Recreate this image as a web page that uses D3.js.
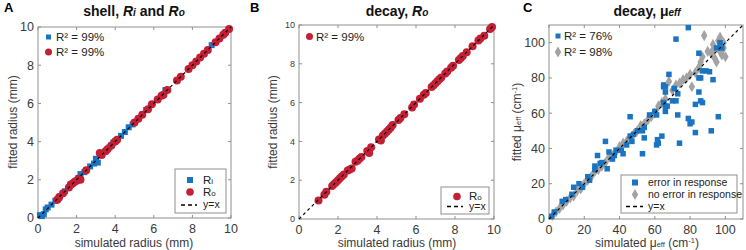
<!DOCTYPE html>
<html lang="en">
  <head>
    <meta charset="UTF-8" />
    <title>fitted vs simulated</title>
    <script src="https://cdn.jsdelivr.net/npm/d3@7"></script>
    <style>
      body { margin: 0; background: #fff; }
      text { font-family: 'Liberation Sans', Arial, sans-serif; }
    </style>
  </head>
  <body>
    <svg width="746" height="250"></svg>

    <script>
      // panel A: shell, inner (Ri) and outer (Ro) radius
      const shellRiSim = [0.1, 0.2, 0.3, 0.4, 0.5, 0.7, 0.9, 1.1, 1.4, 1.7, 2.1, 2.2, 2.4, 2.7, 2.9, 3.0, 3.1, 3.3, 3.7, 3.9, 4.3, 4.5, 4.7, 4.9, 5.6, 6.6, 9.0]
      const shellRiFit = [0.15, 0.1, 0.2, 0.45, 0.55, 0.7, 0.9, 1.05, 1.4, 1.75, 2.1, 2.3, 2.4, 2.7, 2.85, 3.1, 2.9, 3.3, 3.7, 3.95, 4.3, 4.5, 4.75, 4.9, 5.65, 6.7, 9.05]
      const shellRoSim = [1.0, 1.1, 1.3, 1.6, 1.7, 1.8, 1.9, 2.0, 2.1, 2.2, 2.5, 3.2, 3.3, 3.5, 3.6, 3.8, 4.0, 4.1, 5.0, 5.2, 5.4, 5.7, 5.9, 6.2, 6.4, 6.5, 6.7, 7.2, 7.4, 7.8, 8.0, 8.2, 8.4, 8.6, 8.8, 9.2, 9.4, 9.6, 9.7, 9.9]
      const shellRoFit = [0.95, 1.1, 1.3, 1.6, 1.75, 1.8, 1.9, 1.95, 2.05, 2.0, 2.5, 3.4, 3.3, 3.5, 3.6, 3.8, 4.0, 4.1, 5.0, 5.2, 5.4, 5.7, 5.95, 6.2, 6.4, 6.45, 6.7, 7.2, 7.4, 7.8, 8.0, 8.2, 8.4, 8.6, 8.8, 9.2, 9.4, 9.6, 9.7, 9.9]

      // panel B: decay, outer radius
      const decayRoSim = [1.0, 1.3, 1.4, 1.7, 1.8, 1.9, 2.0, 2.1, 2.2, 2.3, 2.5, 2.6, 2.7, 2.9, 3.0, 3.1, 3.2, 3.5, 3.6, 3.7, 4.1, 4.2, 4.3, 4.4, 4.5, 4.6, 4.7, 4.8, 5.1, 5.2, 5.4, 5.8, 5.9, 6.2, 6.4, 6.5, 6.8, 6.9, 7.0, 7.1, 7.2, 7.3, 7.5, 7.6, 7.8, 7.9, 8.2, 8.3, 8.4, 8.6, 8.9, 9.2, 9.3, 9.5, 9.8, 9.9]
      const decayRoFit = [0.95, 1.25, 1.4, 1.7, 1.8, 1.9, 2.0, 2.1, 2.2, 2.3, 2.5, 2.55, 2.6, 2.95, 3.0, 3.1, 3.2, 3.5, 3.4, 3.7, 4.1, 4.05, 4.3, 4.4, 4.5, 4.6, 4.7, 4.85, 5.1, 5.2, 5.4, 5.75, 5.9, 6.2, 6.4, 6.5, 6.8, 6.9, 7.0, 7.1, 7.2, 7.3, 7.5, 7.6, 7.8, 7.9, 8.2, 8.3, 8.4, 8.6, 8.9, 9.2, 9.3, 9.45, 9.8, 9.9]

      // panel C: decay, mu_eff (cm-1)
      const errSim = [1.5, 3, 7.5, 9.5, 13, 14, 17, 19, 22, 23, 26, 26, 29, 33, 27.5, 32, 34, 36, 37, 41, 42, 46, 47, 48, 50, 53, 54, 54, 61, 61.5, 62, 64, 74, 83, 92, 80, 81, 46, 53, 61, 65, 66, 66, 70, 72, 67, 73, 79, 96, 66, 65, 71, 73, 85, 86, 87, 83, 68, 65, 66, 86, 85, 89, 91, 93, 87, 85, 72, 79, 95, 97, 98, 44, 38, 30, 57, 60]
      const errFit = [1.5, 4, 10, 11, 14, 18, 20, 18, 24, 22, 30, 28, 31.5, 28.5, 36, 44, 38, 34, 36, 39, 37, 47, 44, 48, 50, 50, 46, 52, 42, 45, 43, 47, 43, 49, 50, 54, 55, 58, 37, 59, 66, 64, 61, 67, 67, 64, 59, 57, 58, 72, 76, 74, 71, 72, 67, 66, 65, 82, 75, 75, 80, 80, 84, 83.5, 79, 84, 94, 102, 108.5, 97, 100, 97, 42, 39, 32, 59, 61]
      const noErrSim = [2, 4, 6, 8, 10, 12, 14, 16, 18, 20, 22, 24, 26, 28, 30, 32, 34, 36, 38, 40, 42, 44, 46, 48, 50, 52, 54, 56, 58, 60, 62, 64, 66, 68, 70, 72, 74, 76, 78, 80, 81, 83, 85, 86, 87, 88, 90, 92, 93, 94, 95, 96, 97, 97, 98, 99, 100, 96, 93, 99]
      const noErrFit = [2, 4, 6, 8, 10, 12, 13, 16, 17, 20, 22, 24, 27, 28, 30, 32, 35, 36, 38, 41, 43, 44, 46, 48, 50, 53, 54, 56, 58, 60, 64, 66, 68, 78, 73, 76, 77, 79, 80, 82, 75, 83, 86, 89, 92, 104, 95, 94, 99, 91, 89, 101, 103, 95, 93, 97, 92, 97, 96, 100]

      const radiusTicks = [0, 2, 4, 6, 8, 10]
      const muTicks = [0, 20, 40, 60, 80, 100]

      const blue = '#1a74c0'
      const red = '#c41f34'
      const grey = '#a3a3a3'
      const boxColor = '#8f8f8f'
      const tickFont = '12.5px'

      const svg = d3.select('svg')

      // box, inward ticks on all four sides, tick labels
      function panel(p) {
        const x = d3.scaleLinear().domain(p.domain).range([p.left, p.right])
        const y = d3.scaleLinear().domain(p.domain).range([p.bottom, p.top])
        const g = svg.append('g')

        g.append('rect')
          .attr('x', p.left)
          .attr('y', p.top)
          .attr('width', p.right - p.left)
          .attr('height', p.bottom - p.top)
          .attr('fill', 'none')
          .attr('stroke', boxColor)
          .attr('stroke-width', 1)

        const tl = 3
        p.ticks.forEach((t) => {
          g.append('line').attr('x1', x(t)).attr('x2', x(t)).attr('y1', p.bottom).attr('y2', p.bottom - tl).attr('stroke', boxColor)
          g.append('line').attr('x1', x(t)).attr('x2', x(t)).attr('y1', p.top).attr('y2', p.top + tl).attr('stroke', boxColor)
          g.append('line').attr('y1', y(t)).attr('y2', y(t)).attr('x1', p.left).attr('x2', p.left + tl).attr('stroke', boxColor)
          g.append('line').attr('y1', y(t)).attr('y2', y(t)).attr('x1', p.right).attr('x2', p.right - tl).attr('stroke', boxColor)
          g.append('text')
            .attr('x', x(t))
            .attr('y', p.bottom + 15)
            .attr('text-anchor', 'middle')
            .style('font-size', tickFont)
            .attr('fill', '#3a3a3a')
            .text(t)
          g.append('text')
            .attr('x', p.left - 4)
            .attr('y', y(t))
            .attr('dy', '0.35em')
            .attr('text-anchor', 'end')
            .style('font-size', p.yTickSize)
            .attr('fill', '#3a3a3a')
            .text(t)
        })
        return { g, x, y, domain: p.domain }
      }

      // dashed y = x, drawn over the markers
      function identity(P) {
        const [a, b] = P.domain
        P.g.append('line')
          .attr('x1', P.x(a))
          .attr('y1', P.y(a))
          .attr('x2', P.x(b))
          .attr('y2', P.y(b))
          .attr('stroke', '#000')
          .attr('stroke-width', 1.2)
          .attr('stroke-dasharray', '3,3')
      }

      function squares(P, xs, ys, color, s) {
        P.g.append('g')
          .selectAll('rect')
          .data(xs.map((v, i) => [v, ys[i]]))
          .join('rect')
          .attr('x', (d) => P.x(d[0]) - s / 2)
          .attr('y', (d) => P.y(d[1]) - s / 2)
          .attr('width', s)
          .attr('height', s)
          .attr('fill', color)
      }

      function circles(P, xs, ys, color, r) {
        P.g.append('g')
          .selectAll('circle')
          .data(xs.map((v, i) => [v, ys[i]]))
          .join('circle')
          .attr('cx', (d) => P.x(d[0]))
          .attr('cy', (d) => P.y(d[1]))
          .attr('r', r)
          .attr('fill', color)
      }

      const diamond = d3.symbol().type(d3.symbolDiamond).size(36)
      function diamonds(P, xs, ys, color) {
        P.g.append('g')
          .selectAll('path')
          .data(xs.map((v, i) => [v, ys[i]]))
          .join('path')
          .attr('d', diamond)
          .attr('transform', (d) => `translate(${P.x(d[0])},${P.y(d[1])})`)
          .attr('fill', color)
      }

      function legendText(x, y, str, size) {
        return svg.append('text').attr('x', x).attr('y', y).attr('dy', '0.35em').style('font-size', size || '11.5px').attr('fill', '#222').text(str)
      }

      function dashKey(x1, x2, y) {
        svg.append('line').attr('x1', x1).attr('x2', x2).attr('y1', y).attr('y2', y).attr('stroke', '#000').attr('stroke-width', 1.3).attr('stroke-dasharray', '4,3')
      }

      function title(cx, parts) {
        const t = svg.append('text').attr('x', cx).attr('y', 16).attr('text-anchor', 'middle').style('font-size', '14px').style('font-weight', 'bold').attr('fill', '#111')
        parts.forEach((p) => {
          t.append('tspan').style('font-style', p.it ? 'italic' : 'normal').style('font-size', p.size || '14px').text(p.s)
        })
      }

      function letter(x, s) {
        svg.append('text').attr('x', x).attr('y', 12).style('font-size', '13px').style('font-weight', 'bold').text(s)
      }

      function yLabel(x, cy, parts) {
        const t = svg.append('text').attr('transform', `translate(${x},${cy}) rotate(-90)`).attr('text-anchor', 'middle').style('font-size', '12px').attr('fill', '#3a3a3a')
        parts.forEach((p) => {
          const s = t.append('tspan').style('font-size', p.size || '12px').text(p.s)
          if (p.dy) s.attr('dy', p.dy)
        })
      }

      function xLabel(cx, y, parts) {
        const t = svg.append('text').attr('x', cx).attr('y', y).attr('text-anchor', 'middle').style('font-size', '12px').attr('fill', '#3a3a3a')
        parts.forEach((p) => {
          const s = t.append('tspan').style('font-size', p.size || '12px').text(p.s)
          if (p.dy) s.attr('dy', p.dy)
        })
      }

      // ---- A ----
      const A = panel({ domain: [0, 10], ticks: radiusTicks, left: 38, right: 231, top: 27, bottom: 218, yTickSize: tickFont })
      squares(A, shellRiSim, shellRiFit, blue, 6)
      circles(A, shellRoSim, shellRoFit, red, 4)
      identity(A)
      letter(4, 'A')
      title(134, [{ s: 'shell, ' }, { s: 'R', it: true }, { s: 'i', it: true, size: '10px' }, { s: ' and ' }, { s: 'R', it: true }, { s: 'o', it: true, size: '10px' }])
      xLabel(134, 247, [{ s: 'simulated radius (mm)' }])
      yLabel(17, 122, [{ s: 'fitted radius (mm)' }])
      svg.append('rect').attr('x', 46).attr('y', 34.5).attr('width', 5).attr('height', 5).attr('fill', blue)
      legendText(56, 37, 'R² = 99%')
      svg.append('circle').attr('cx', 48.5).attr('cy', 52).attr('r', 3.5).attr('fill', red)
      legendText(56, 52, 'R² = 99%')
      svg.append('rect').attr('x', 175).attr('y', 169).attr('width', 51).attr('height', 44).attr('fill', '#fff').attr('stroke', boxColor)
      svg.append('rect').attr('x', 187).attr('y', 177).attr('width', 6).attr('height', 6).attr('fill', blue)
      const ri = legendText(203, 180, 'R', '11.5px')
      ri.append('tspan').style('font-size', '8px').text('i')
      svg.append('circle').attr('cx', 190).attr('cy', 192).attr('r', 3.8).attr('fill', red)
      const ro = legendText(203, 192, 'R', '11.5px')
      ro.append('tspan').style('font-size', '8px').text('o')
      dashKey(181, 197, 205)
      legendText(203, 204.5, 'y=x', '10.5px')

      // ---- B ----
      const B = panel({ domain: [0, 10], ticks: radiusTicks, left: 299, right: 494, top: 25, bottom: 219, yTickSize: '9px' })
      circles(B, decayRoSim, decayRoFit, red, 4)
      identity(B)
      letter(250, 'B')
      title(397, [{ s: 'decay, ' }, { s: 'R', it: true }, { s: 'o', it: true, size: '10px' }])
      xLabel(397, 247, [{ s: 'simulated radius (mm)' }])
      yLabel(277, 122, [{ s: 'fitted radius (mm)' }])
      svg.append('circle').attr('cx', 309.5).attr('cy', 36.5).attr('r', 3.5).attr('fill', red)
      legendText(316, 36.5, 'R² = 99%')
      svg.append('rect').attr('x', 441).attr('y', 187).attr('width', 48).attr('height', 27).attr('fill', '#fff').attr('stroke', boxColor)
      svg.append('circle').attr('cx', 457).attr('cy', 196.5).attr('r', 3.8).attr('fill', red)
      const ro2 = legendText(469, 195.5, 'R', '11.5px')
      ro2.append('tspan').style('font-size', '8px').text('o')
      dashKey(447, 463, 206.5)
      legendText(469, 206.5, 'y=x', '10.5px')

      // ---- C ----
      const C = panel({ domain: [0, 110], ticks: muTicks, left: 549, right: 743, top: 25, bottom: 219, yTickSize: tickFont })
      diamonds(C, noErrSim, noErrFit, grey)
      squares(C, errSim, errFit, blue, 5.5)
      identity(C)
      letter(523, 'C')
      title(647, [{ s: 'decay, ' }, { s: 'μ' }, { s: 'eff', it: true, size: '10px' }])
      xLabel(647, 247, [{ s: 'simulated μ' }, { s: 'eff', size: '7.5px' }, { s: ' (cm' }, { s: '-1', size: '7.5px', dy: '-4' }, { s: ')', dy: '4' }])
      yLabel(521, 122, [{ s: 'fitted μ' }, { s: 'eff', size: '7.5px' }, { s: ' (cm' }, { s: '-1', size: '7.5px', dy: '-4' }, { s: ')', dy: '4' }])
      svg.append('rect').attr('x', 555.5).attr('y', 33.5).attr('width', 5).attr('height', 5).attr('fill', blue)
      legendText(564, 36, 'R² = 76%')
      svg.append('path').attr('d', diamond).attr('transform', 'translate(558,52)').attr('fill', grey)
      legendText(564, 52, 'R² = 98%')
      svg.append('rect').attr('x', 621).attr('y', 175).attr('width', 116).attr('height', 38).attr('fill', '#fff').attr('stroke', boxColor)
      svg.append('rect').attr('x', 632).attr('y', 179.5).attr('width', 6).attr('height', 6).attr('fill', blue)
      legendText(648, 182.5, 'error in response', '10.5px')
      svg.append('path').attr('d', diamond).attr('transform', 'translate(635,194.5)').attr('fill', grey)
      legendText(648, 194.5, 'no error in response', '10.5px')
      dashKey(626, 643, 206.5)
      legendText(648, 206, 'y=x', '10.5px')
    </script>
  </body>
</html>
